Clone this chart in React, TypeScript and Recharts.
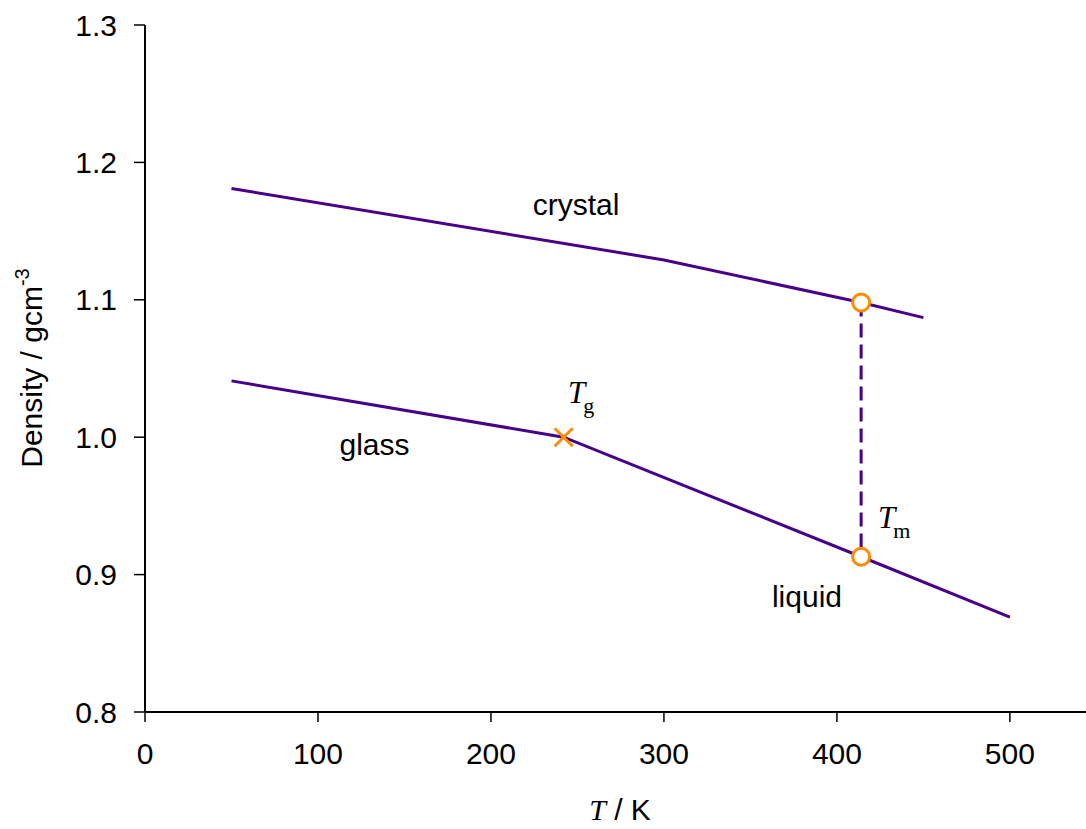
import React from 'react';
import { ComposedChart, Line, XAxis, YAxis, Scatter, ReferenceDot } from 'recharts';

const crystal = [
  { T: 50, d: 1.181 },
  { T: 300, d: 1.129 },
  { T: 414, d: 1.098 },
  { T: 450, d: 1.087 },
];
const glassLiquid = [
  { T: 50, d: 1.041 },
  { T: 242, d: 1.0 },
  { T: 414, d: 0.913 },
  { T: 500, d: 0.869 },
];
const meltLine = [
  { T: 414, d: 1.098 },
  { T: 414, d: 0.913 },
];
const tgPoint = [{ T: 242, d: 1.0 }];
const tmPoints = [
  { T: 414, d: 1.098 },
  { T: 414, d: 0.913 },
];
const xTicks = [0, 100, 200, 300, 400, 500];
const yTicks = [0.8, 0.9, 1.0, 1.1, 1.2, 1.3];
const phaseLabels = [
  { T: 249.2, d: 1.1617, text: 'crystal' },
  { T: 132.7, d: 0.987, text: 'glass' },
  { T: 382.7, d: 0.8764, text: 'liquid' },
];
const symLabels = [
  { T: 244.5, d: 1.0249, main: 'T', sub: 'g' },
  { T: 423.7, d: 0.934, main: 'T', sub: 'm' },
];

const LINE = '#48008A';
const ORANGE = '#FF8C00';
const SANS = '"Liberation Sans", Arial, sans-serif';
const SERIF = '"Liberation Serif", "Times New Roman", serif';

const Cross = (props: any) => {
  const { cx, cy } = props;
  const s = 9;
  return (
    <g stroke={ORANGE} strokeWidth={3}>
      <line x1={cx - s} y1={cy - s} x2={cx + s} y2={cy + s} />
      <line x1={cx - s} y1={cy + s} x2={cx + s} y2={cy - s} />
    </g>
  );
};

const OpenCircle = (props: any) => {
  const { cx, cy } = props;
  return <circle cx={cx} cy={cy} r={8.5} fill="#fff" stroke={ORANGE} strokeWidth={3} />;
};

const YLabel = () => (
  <text
    x={42}
    y={368}
    transform="rotate(-90, 42, 368)"
    textAnchor="middle"
    fontFamily={SANS}
    fontSize={30}
    fill="#000"
  >
    Density / gcm
    <tspan dy={-13} fontSize={20}>-3</tspan>
  </text>
);

const XLabel = () => (
  <text x={620} y={820} textAnchor="middle" fontSize={30} fill="#000" fontFamily={SANS}>
    <tspan fontFamily={SERIF} fontStyle="italic">T</tspan>
    <tspan> / K</tspan>
  </text>
);

export default function App() {
  return (
    <div style={{ position: 'absolute', left: 0, top: 0, width: 1086, height: 829, background: '#fff' }}>
      <ComposedChart width={1086} height={829} margin={{ top: 25, right: 0, bottom: 0, left: 0 }}>
        <XAxis
          type="number"
          dataKey="T"
          domain={[0, 544]}
          ticks={xTicks}
          allowDataOverflow
          height={117}
          axisLine={{ stroke: '#000', strokeWidth: 2 }}
          tickLine={{ stroke: '#000', strokeWidth: 1.5 }}
          tickSize={10}
          tickMargin={21}
          tick={{ fontSize: 30, fill: '#000', fontFamily: SANS }}
          label={{ content: () => <XLabel /> }}
        />
        <YAxis
          type="number"
          dataKey="d"
          domain={[0.8, 1.3]}
          ticks={yTicks}
          allowDataOverflow
          width={145}
          axisLine={{ stroke: '#000', strokeWidth: 2 }}
          tickLine={{ stroke: '#000', strokeWidth: 1.5 }}
          tickSize={11}
          tickMargin={17}
          tickFormatter={(v: number) => v.toFixed(1)}
          tick={{ fontSize: 30, fill: '#000', fontFamily: SANS }}
          label={{ content: () => <YLabel /> }}
        />
        <Line data={crystal} dataKey="d" type="linear" stroke={LINE} strokeWidth={3} dot={false} isAnimationActive={false} />
        <Line data={glassLiquid} dataKey="d" type="linear" stroke={LINE} strokeWidth={3} dot={false} isAnimationActive={false} />
        <Line data={meltLine} dataKey="d" type="linear" stroke={LINE} strokeWidth={3} strokeDasharray="14 7" dot={false} isAnimationActive={false} />
        <Scatter data={tgPoint} dataKey="d" shape={Cross} isAnimationActive={false} />
        <Scatter data={tmPoints} dataKey="d" shape={OpenCircle} isAnimationActive={false} />
        {phaseLabels.map((p) => (
          <ReferenceDot
            key={p.text}
            x={p.T}
            y={p.d}
            shape={(props: any) => (
              <text x={props.cx} y={props.cy} textAnchor="middle" fontSize={30} fontFamily={SANS} fill="#000">
                {p.text}
              </text>
            )}
          />
        ))}
        {symLabels.map((p) => (
          <ReferenceDot
            key={p.sub}
            x={p.T}
            y={p.d}
            shape={(props: any) => (
              <text x={props.cx} y={props.cy} fontFamily={SERIF} fill="#000" fontSize={31}>
                <tspan fontStyle="italic">{p.main}</tspan>
                <tspan fontSize={22} dy={10} dx={-2}>{p.sub}</tspan>
              </text>
            )}
          />
        ))}
      </ComposedChart>
    </div>
  );
}
